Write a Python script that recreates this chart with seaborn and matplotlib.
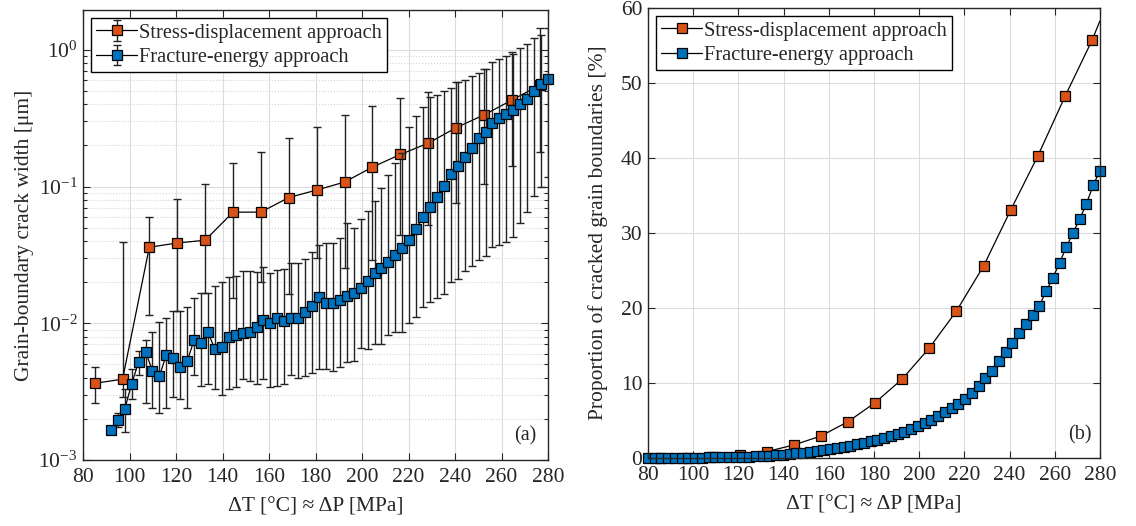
import matplotlib
matplotlib.use('Agg')
from matplotlib import pyplot as plt
from matplotlib.container import ErrorbarContainer
from matplotlib.ticker import MultipleLocator, NullLocator
import numpy as np
import seaborn as sns

# Load step (dT in degC ~ dP in MPa), fracture-energy runs
dt_fe = [80.00, 82.99, 85.97, 88.96, 91.94, 94.93, 97.91, 100.90, 103.88, 106.87,
         109.85, 112.84, 115.82, 118.81, 121.79, 124.78, 127.76, 130.75, 133.73, 136.72,
         139.70, 142.69, 145.67, 148.66, 151.64, 154.63, 157.61, 160.60, 163.58, 166.57,
         169.55, 172.54, 175.52, 178.51, 181.49, 184.48, 187.46, 190.45, 193.43, 196.42,
         199.40, 202.39, 205.37, 208.36, 211.34, 214.33, 217.31, 220.30, 223.28, 226.27,
         229.25, 232.24, 235.22, 238.21, 241.19, 244.18, 247.16, 250.15, 253.13, 256.12,
         259.10, 262.09, 265.07, 268.06, 271.04, 274.03, 277.01, 280.00]

# Load step, stress-displacement runs
dt_sd = [85.0, 97.0, 108.5, 120.5, 132.5, 144.5, 156.5, 168.5, 180.5, 192.5,
         204.5, 216.5, 228.5, 240.5, 252.5, 264.5, 276.5]

# (a) crack width [um], stress-displacement: mean, lower, upper
width_sd = [0.00364, 0.0039, 0.036, 0.0387, 0.0405, 0.065, 0.0651, 0.0832, 0.0944, 0.108,
            0.139, 0.172, 0.208, 0.27, 0.335, 0.43, 0.553]
width_sd_low = [0.0026, 0.0029, 0.0115, 0.0123, 0.0166, 0.0152, 0.020, 0.0163, 0.030, 0.0254,
                0.0292, 0.0446, 0.052, 0.0755, 0.104, 0.141, 0.18]
width_sd_high = [0.0048, 0.0395, 0.0596, 0.0807, 0.1037, 0.149, 0.180, 0.228, 0.272, 0.335,
                 0.391, 0.445, 0.495, 0.58, 0.72, 0.97, 1.45]

# (a) crack width [um], fracture-energy (no cracks for the first four steps)
width_fe = [0.00166, 0.00196, 0.00235, 0.00360, 0.0052, 0.0062, 0.0045, 0.0041, 0.0059, 0.0056,
            0.0048, 0.0053, 0.0075, 0.00721, 0.00860, 0.00645, 0.00667, 0.00798, 0.0082, 0.00845,
            0.00868, 0.00944, 0.01057, 0.0101, 0.0109, 0.01045, 0.0109, 0.0109, 0.0120, 0.0134,
            0.01566, 0.0140, 0.0140, 0.0148, 0.0159, 0.0166, 0.0180, 0.0205, 0.0233, 0.0255,
            0.0282, 0.0316, 0.0354, 0.0408, 0.0489, 0.0603, 0.0713, 0.0844, 0.101, 0.124,
            0.142, 0.166, 0.191, 0.225, 0.250, 0.290, 0.316, 0.340, 0.363, 0.402,
            0.437, 0.503, 0.563, 0.616]
width_fe_low = [0.0016, 0.00175, 0.0016, 0.0028, 0.0042, 0.0026, 0.0024, 0.0022, 0.0024, 0.0029,
                0.0028, 0.0024, 0.0042, 0.0035, 0.0036, 0.0033, 0.0030, 0.0033, 0.0034, 0.0039,
                0.0038, 0.0036, 0.0039, 0.0034, 0.0035, 0.0036, 0.0042, 0.0040, 0.0041, 0.0043,
                0.0046, 0.0046, 0.0045, 0.0048, 0.0052, 0.0053, 0.0066, 0.0065, 0.0071, 0.0071,
                0.0082, 0.0087, 0.0087, 0.0100, 0.0112, 0.0132, 0.0142, 0.0152, 0.0163, 0.0199,
                0.021, 0.0243, 0.0263, 0.0292, 0.0313, 0.0364, 0.0371, 0.0395, 0.0425, 0.0538,
                0.0655, 0.085, 0.10, 0.118]
width_fe_high = [0.0017, 0.0022, 0.0033, 0.0046, 0.0063, 0.0075, 0.0087, 0.0102, 0.0110, 0.0123,
                 0.0123, 0.0132, 0.0154, 0.0166, 0.0166, 0.0188, 0.0202, 0.0220, 0.0223, 0.0243,
                 0.0240, 0.0239, 0.0259, 0.0233, 0.0245, 0.0250, 0.0274, 0.0277, 0.0297, 0.0330,
                 0.0376, 0.0390, 0.0390, 0.0419, 0.0543, 0.050, 0.0578, 0.0667, 0.0786, 0.097,
                 0.121, 0.148, 0.176, 0.275, 0.33, 0.38, 0.45, 0.47, 0.50, 0.53,
                 0.58, 0.60, 0.65, 0.68, 0.73, 0.81, 0.86, 0.91, 0.93, 1.04,
                 1.11, 1.22, 1.28, 1.44]

# (b) proportion of cracked grain boundaries [%]
pct_sd = [0.0, 0.0, 0.1, 0.4, 0.85, 1.73, 2.93, 4.84, 7.38, 10.53,
          14.67, 19.6, 25.6, 33.07, 40.27, 48.2, 55.7]
dt_sd_end = 280.0
pct_sd_end = 58.3
pct_fe = [0.0, 0.0, 0.0, 0.0, 0.02, 0.03, 0.04, 0.05, 0.06, 0.07,
          0.08, 0.09, 0.1, 0.12, 0.14, 0.16, 0.2, 0.26, 0.33, 0.39,
          0.45, 0.55, 0.64, 0.72, 0.82, 0.93, 1.05, 1.2, 1.34, 1.5,
          1.65, 1.8, 2.0, 2.25, 2.45, 2.7, 2.95, 3.2, 3.5, 3.8,
          4.2, 4.6, 5.0, 5.6, 6.1, 6.6, 7.2, 7.9, 8.6, 9.6,
          10.6, 11.6, 12.9, 14.1, 15.3, 16.6, 17.9, 19.0, 20.3, 22.2,
          24.0, 26.0, 28.1, 30.0, 31.9, 33.9, 36.4, 38.3]

labels = ['Stress-displacement approach', 'Fracture-energy approach']
orange = '#D95319'
blue = '#0072BD'

sns.set_style('ticks')
plt.rcParams['font.family'] = ['Liberation Serif', 'DejaVu Serif']
plt.rcParams['mathtext.fontset'] = 'stix'
plt.rcParams['font.size'] = 15

tick_fs = 15.5
label_fs = 15.5
legend_fs = 14.7

fig = plt.figure(figsize=(11.36, 5.26), dpi=100)
ax1 = fig.add_axes([0.0731, 0.1255, 0.4093, 0.8555])
ax2 = fig.add_axes([0.5704, 0.1293, 0.3979, 0.8555])

line_kws = dict(color='black', lw=0.9, marker='s', ms=7.5, mec='black', mew=0.9)

# ---- (a) crack width with error bars
dt_fe_a = dt_fe[4:]
sd_w = np.array(width_sd)
fe_w = np.array(width_fe)
eb_sd = ax1.errorbar(dt_sd, width_sd,
                     yerr=[sd_w - np.array(width_sd_low), np.array(width_sd_high) - sd_w],
                     fmt='none', ecolor='#222222', elinewidth=1, capsize=2.6, capthick=1, zorder=2)
sns.lineplot(x=dt_sd, y=width_sd, ax=ax1, mfc=orange, zorder=3, clip_on=False, **line_kws)
line_sd = ax1.lines[-1]
eb_fe = ax1.errorbar(dt_fe_a, width_fe,
                     yerr=[fe_w - np.array(width_fe_low), np.array(width_fe_high) - fe_w],
                     fmt='none', ecolor='#222222', elinewidth=1, capsize=2.6, capthick=1, zorder=4)
sns.lineplot(x=dt_fe_a, y=width_fe, ax=ax1, mfc=blue, zorder=5, clip_on=False, **line_kws)
line_fe = ax1.lines[-1]

ax1.set_yscale('log')
ax1.set_ylim(1e-3, 1.96)
ax1.set_xlim(80, 280)
ax1.xaxis.set_major_locator(MultipleLocator(20))
ax1.xaxis.set_minor_locator(NullLocator())
ax1.set_xlabel('ΔT [°C] ≈ ΔP [MPa]', fontsize=label_fs, labelpad=7)
ax1.set_ylabel('Grain-boundary crack width [μm]', fontsize=label_fs, labelpad=3)
ax1.grid(True, which='major', color='#dcdcdc', lw=0.8)
ax1.grid(True, which='minor', axis='y', color='#d4d4d4', ls=':', lw=0.8)
ax1.text(0.975, 0.032, '(a)', transform=ax1.transAxes, ha='right', va='bottom', fontsize=14.5)

h_sd = ErrorbarContainer((line_sd, eb_sd.lines[1], eb_sd.lines[2]), has_xerr=False, has_yerr=True)
h_fe = ErrorbarContainer((line_fe, eb_fe.lines[1], eb_fe.lines[2]), has_xerr=False, has_yerr=True)
leg_kws = dict(loc='upper left', fontsize=legend_fs, handlelength=2.0, handletextpad=0.1,
               labelspacing=0.25, borderpad=0.25, borderaxespad=0.4, fancybox=False,
               framealpha=1, edgecolor='black')
leg1 = ax1.legend(handles=[h_sd, h_fe], labels=labels, **leg_kws)
leg1.get_frame().set_linewidth(1.0)
leg1.set_zorder(10)

# ---- (b) proportion of cracked boundaries
sns.lineplot(x=dt_sd + [dt_sd_end], y=pct_sd + [pct_sd_end], ax=ax2, mfc=orange,
             markevery=slice(0, len(dt_sd)), zorder=3, clip_on=False, label=labels[0], **line_kws)
sns.lineplot(x=dt_fe, y=pct_fe, ax=ax2, mfc=blue, zorder=5, clip_on=False,
             label=labels[1], **line_kws)
ax2.set_xlim(80, 280)
ax2.set_ylim(0, 60)
ax2.xaxis.set_major_locator(MultipleLocator(20))
ax2.yaxis.set_major_locator(MultipleLocator(10))
ax2.set_xlabel('ΔT [°C] ≈ ΔP [MPa]', fontsize=label_fs, labelpad=7)
ax2.set_ylabel('Proportion of cracked grain boundaries [%]', fontsize=label_fs, labelpad=9)
ax2.grid(True, which='major', color='#dcdcdc', lw=0.8)
ax2.text(0.982, 0.03, '(b)', transform=ax2.transAxes, ha='right', va='bottom', fontsize=14.5)
leg2 = ax2.legend(**leg_kws)
leg2.get_frame().set_linewidth(1.0)
leg2.set_zorder(10)

for ax in (ax1, ax2):
    ax.set_axisbelow(True)
    ax.tick_params(which='both', direction='in', top=True, right=True, labelsize=tick_fs,
                   width=0.8, color='#262626')
    ax.tick_params(which='major', length=5)
    ax.tick_params(which='minor', length=3)
    ax.tick_params(axis='x', pad=6)
    ax.tick_params(axis='y', pad=4)
    for s in ax.spines.values():
        s.set_color('#262626')
        s.set_linewidth(1.0)
        s.set_zorder(6)

fig.savefig('out.png', dpi=100)
